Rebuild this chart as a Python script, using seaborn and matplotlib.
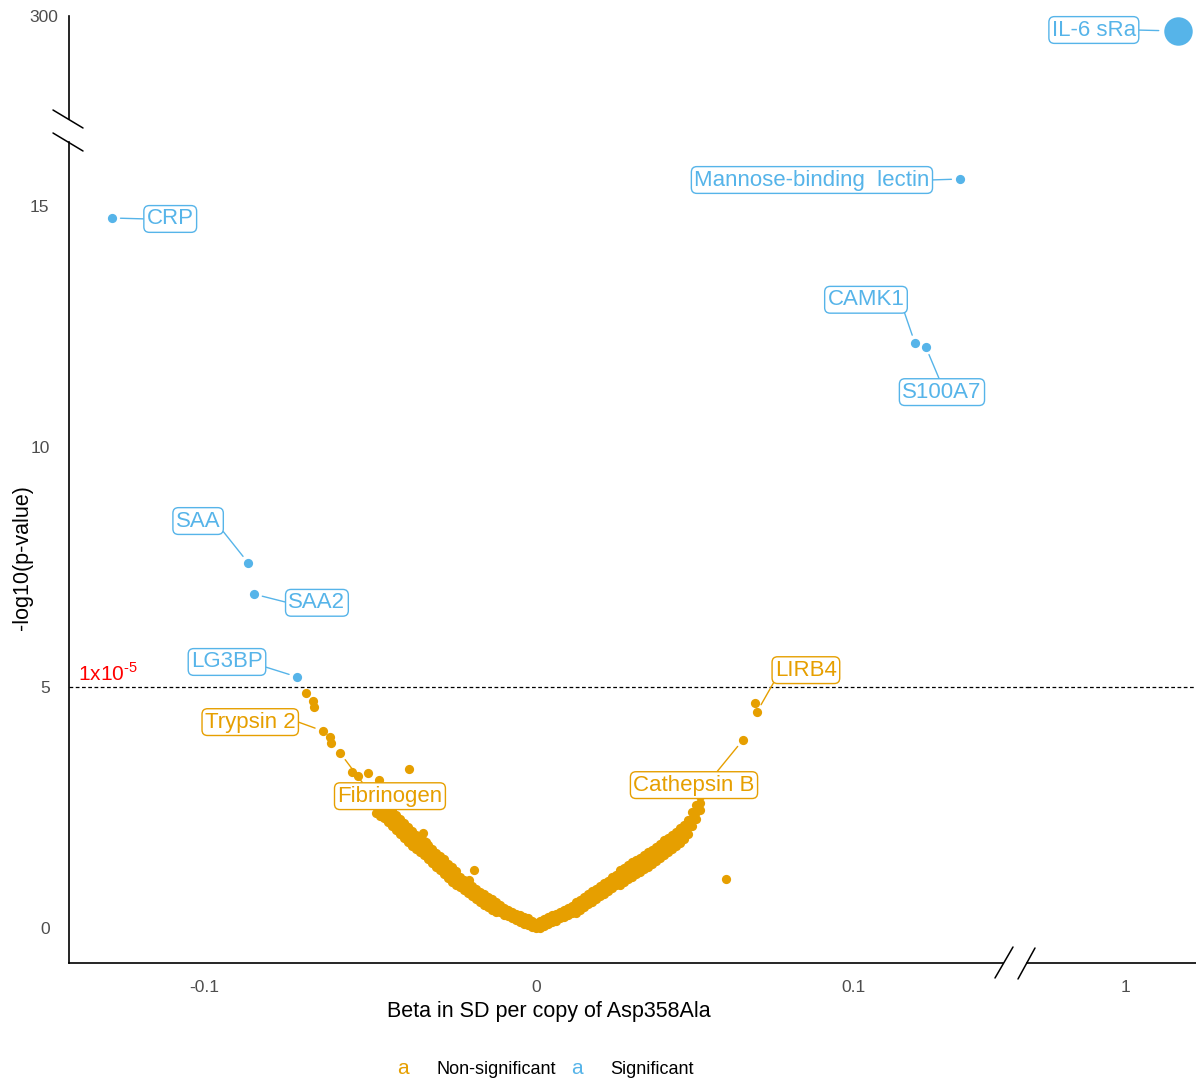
import numpy as np
import pandas as pd
import matplotlib
matplotlib.use("Agg")
import matplotlib.pyplot as plt
from matplotlib.lines import Line2D
import seaborn as sns

# ---------------- data ----------------
# dense band of non-significant proteins: beta with upper / middle / lower -log10 p
band_beta = [
    -0.0482, -0.0470, -0.0458, -0.0446, -0.0434, -0.0422, -0.0410, -0.0398,
    -0.0386, -0.0373, -0.0361, -0.0349, -0.0337, -0.0325, -0.0313, -0.0301,
    -0.0289, -0.0277, -0.0265, -0.0253, -0.0241, -0.0229, -0.0217, -0.0205,
    -0.0193, -0.0181, -0.0169, -0.0157, -0.0145, -0.0133, -0.0120, -0.0108,
    -0.0096, -0.0084, -0.0072, -0.0060, -0.0048, -0.0036, -0.0024, -0.0012,
    0.0000,
    0.0013, 0.0025, 0.0038, 0.0050, 0.0063, 0.0075, 0.0088, 0.0101,
    0.0113, 0.0126, 0.0138, 0.0151, 0.0164, 0.0176, 0.0189, 0.0201,
    0.0214, 0.0226, 0.0239, 0.0252, 0.0264, 0.0277, 0.0289, 0.0302,
    0.0314, 0.0327, 0.0340, 0.0352, 0.0365, 0.0377, 0.0390, 0.0403,
    0.0415, 0.0428, 0.0440, 0.0453, 0.0465, 0.0478, 0.0491, 0.0503,
    0.0516,
]
band_hi = [
    2.69, 2.63, 2.58, 2.51, 2.43, 2.34, 2.26, 2.18,
    2.09, 2.01, 1.94, 1.88, 1.81, 1.73, 1.65, 1.56,
    1.50, 1.43, 1.34, 1.26, 1.19, 1.07, 1.00, 0.94,
    0.88, 0.82, 0.75, 0.70, 0.65, 0.60, 0.55, 0.47,
    0.42, 0.38, 0.34, 0.30, 0.27, 0.23, 0.20, 0.15,
    0.11,
    0.14, 0.18, 0.23, 0.26, 0.29, 0.34, 0.37, 0.42,
    0.46, 0.54, 0.59, 0.65, 0.71, 0.77, 0.82, 0.88,
    0.93, 0.98, 1.05, 1.11, 1.20, 1.25, 1.31, 1.37,
    1.42, 1.46, 1.52, 1.57, 1.63, 1.69, 1.75, 1.82,
    1.88, 1.94, 2.00, 2.07, 2.15, 2.25, 2.42, 2.56,
    2.75,
]
band_mid = [
    2.54, 2.48, 2.43, 2.36, 2.28, 2.19, 2.11, 2.03,
    1.94, 1.86, 1.79, 1.73, 1.66, 1.58, 1.50, 1.41,
    1.35, 1.28, 1.19, 1.11, 1.04, 0.96, 0.89, 0.83,
    0.77, 0.71, 0.64, 0.59, 0.54, 0.49, 0.44, 0.40,
    0.35, 0.31, 0.27, 0.23, 0.20, 0.16, 0.13, 0.08,
    0.04,
    0.07, 0.11, 0.16, 0.19, 0.22, 0.27, 0.30, 0.35,
    0.39, 0.43, 0.48, 0.54, 0.60, 0.66, 0.71, 0.77,
    0.82, 0.87, 0.94, 1.00, 1.05, 1.10, 1.16, 1.22,
    1.27, 1.31, 1.37, 1.42, 1.48, 1.54, 1.60, 1.67,
    1.73, 1.79, 1.85, 1.92, 2.00, 2.10, 2.27, 2.41,
    2.60,
]
band_lo = [
    2.39, 2.33, 2.28, 2.21, 2.13, 2.04, 1.96, 1.88,
    1.79, 1.71, 1.64, 1.58, 1.51, 1.43, 1.35, 1.26,
    1.20, 1.13, 1.04, 0.96, 0.89, 0.85, 0.78, 0.72,
    0.66, 0.60, 0.53, 0.48, 0.43, 0.38, 0.33, 0.33,
    0.28, 0.24, 0.20, 0.16, 0.13, 0.09, 0.06, 0.02,
    0.00,
    0.01, 0.04, 0.09, 0.12, 0.15, 0.20, 0.23, 0.28,
    0.32, 0.32, 0.37, 0.43, 0.49, 0.55, 0.60, 0.66,
    0.71, 0.76, 0.83, 0.89, 0.90, 0.95, 1.01, 1.07,
    1.12, 1.16, 1.22, 1.27, 1.33, 1.39, 1.45, 1.52,
    1.58, 1.64, 1.70, 1.77, 1.85, 1.95, 2.12, 2.26,
    2.45,
]

# scattered non-significant proteins away from the band
out_beta = [-0.0693, -0.0672, -0.0669, -0.0642, -0.0620, -0.0617, -0.0590, -0.0554,
            -0.0536, -0.0506, -0.0473, -0.0383, -0.0494, -0.0340, -0.0331, -0.0187,
            -0.0202, 0.0689, 0.0695, 0.0651, 0.0597]
out_logp = [4.886, 4.719, 4.595, 4.096, 3.971, 3.846, 3.638, 3.243,
            3.160, 3.222, 3.077, 3.306, 2.869, 1.975, 1.788, 1.206,
            0.998, 4.678, 4.491, 3.909, 1.019]

# significant proteins
sig_names = ["CRP", "SAA", "SAA2", "LG3BP", "Mannose-binding  lectin",
             "CAMK1", "S100A7", "IL-6 sRa"]
sig_beta = [-0.1277, -0.0867, -0.0849, -0.0720, 0.1333, 0.1192, 0.1226, 1.0164]
sig_logp = [14.76, 7.59, 6.94, 5.22, 15.57, 12.16, 12.08, 299.27]

# labelled non-significant proteins
ns_label_names = ["Trypsin 2", "Fibrinogen", "LIRB4", "Cathepsin B"]
ns_label_beta = [-0.0642, -0.0590, 0.0695, 0.0651]
ns_label_logp = [4.096, 3.638, 4.491, 3.909]

# label box positions (data coords)
sig_text_x = [-0.1102, -0.1018, -0.0660, -0.0931, 0.0868, 0.1038, 0.1277, 0.9899]
sig_text_y = [14.74, 8.46, 6.76, 5.53, 15.55, 13.06, 11.14, 299.32]
ns_text_x = [-0.0861, -0.0440, 0.0849, 0.0497]
ns_text_y = [4.28, 2.74, 5.36, 2.97]

threshold = 5
x_ticks = [-0.1, 0, 0.1]
x_tick_labels = ["-0.1", "0", "0.1"]
x_ticks_right = [1]
y_ticks = [0, 5, 10, 15]
y_ticks_top = [300]

ORANGE = "#E69F00"
BLUE = "#56B4E9"

# ---------------- style ----------------
sns.set_style("white")
plt.rcParams["font.family"] = ["Liberation Sans", "DejaVu Sans"]
plt.rcParams["mathtext.fontset"] = "custom"
plt.rcParams["mathtext.rm"] = "Liberation Sans"

W, H = 1196, 1079
fig = plt.figure(figsize=(W / 100, H / 100), dpi=100)


def rect(x0, y0, x1, y1):
    return [x0 / W, 1 - y1 / H, (x1 - x0) / W, (y1 - y0) / H]


ax_ll = fig.add_axes(rect(69, 142, 1003, 963))
ax_ul = fig.add_axes(rect(69, 16, 1003, 119))
ax_lr = fig.add_axes(rect(1027, 142, 1196, 963))
ax_ur = fig.add_axes(rect(1027, 16, 1196, 119))

k = 3320 / 3180


def fwd(x):
    x = np.asarray(x, dtype=float)
    return np.where(x < 0, x * k, x)


def inv(x):
    x = np.asarray(x, dtype=float)
    return np.where(x < 0, x / k, x)


for ax in (ax_ll, ax_ul):
    ax.set_xscale("function", functions=(fwd, inv))
    ax.set_xlim(-0.1407, 0.1469)
for ax in (ax_lr, ax_ur):
    ax.set_xlim(0.9689, 1.0220)
for ax in (ax_ll, ax_lr):
    ax.set_ylim(-0.728, 16.34)
for ax in (ax_ul, ax_ur):
    ax.set_ylim(295, 300)

df_ns = pd.DataFrame({
    "beta": band_beta * 3 + out_beta,
    "logp": band_hi + band_mid + band_lo + out_logp,
})
df_sig = pd.DataFrame({"beta": sig_beta, "logp": sig_logp})

sns.scatterplot(data=df_ns, x="beta", y="logp", color=ORANGE, s=44,
                linewidth=0, ax=ax_ll, legend=False, zorder=3)
sns.scatterplot(data=df_sig.iloc[:7], x="beta", y="logp", color=BLUE, s=44,
                linewidth=0, ax=ax_ll, legend=False, zorder=3)
sns.scatterplot(data=df_sig.iloc[7:], x="beta", y="logp", color=BLUE, s=420,
                linewidth=0, ax=ax_ur, legend=False, zorder=3, clip_on=False)

ax_ll.axhline(threshold, xmin=0, xmax=1.027, clip_on=False, color="black",
              lw=0.9, ls=(0, (3, 2)), zorder=1)
ax_lr.axhline(threshold, color="black", lw=0.9, ls=(0, (3, 2)), zorder=1)

ax_ll.text(-0.1380, threshold + 0.05, r"1x10$^{\text{-5}}$", color="red",
           fontsize=15, ha="left", va="bottom")

# labels
FS = 16
sig_relpos = [(0, 0.5), (1, 0.17), (0, 0.5), (1, 0.3), (1, 0.5),
              (0.99, 0), (0.48, 1), (1, 0.5)]
ns_relpos = [(1, 0.55), (0.26, 1), (0.01, 0.07), (0.67, 1)]


def label(ax, name, xy, xytext, color, relpos, shrinkB=6):
    ax.annotate(name, xy=xy, xytext=xytext, ha="center", va="center",
                fontsize=FS, color=color, annotation_clip=False, zorder=5,
                bbox=dict(boxstyle="round,pad=0.13,rounding_size=0.25",
                          fc="white", ec=color, lw=1),
                arrowprops=dict(arrowstyle="-", color=color, lw=1,
                                shrinkA=0, shrinkB=shrinkB, relpos=relpos))


for i, name in enumerate(sig_names):
    ax = ax_ur if i == 7 else ax_ll
    label(ax, name, (sig_beta[i], sig_logp[i]), (sig_text_x[i], sig_text_y[i]),
          BLUE, sig_relpos[i], shrinkB=14 if i == 7 else 6)
for i, name in enumerate(ns_label_names):
    label(ax_ll, name, (ns_label_beta[i], ns_label_logp[i]),
          (ns_text_x[i], ns_text_y[i]), ORANGE, ns_relpos[i])

# axes styling
for ax in (ax_ll, ax_ul, ax_lr, ax_ur):
    for s in ax.spines.values():
        s.set_visible(False)
        s.set_linewidth(1.2)
        s.set_color("black")
    ax.tick_params(axis="both", length=4, width=1, color="#333333",
                   labelcolor="#4D4D4D", labelsize=12.5, pad=4)
    ax.set_xlabel("")
    ax.set_ylabel("")
    ax.patch.set_alpha(0)

ax_ll.spines["left"].set_visible(True)
ax_ll.spines["bottom"].set_visible(True)
ax_ul.spines["left"].set_visible(True)
ax_lr.spines["bottom"].set_visible(True)

ax_ll.set_xticks(x_ticks)
ax_ll.set_xticklabels(x_tick_labels)
ax_ll.set_yticks(y_ticks)
ax_ul.set_xticks([])
ax_ul.set_yticks(y_ticks_top)
ax_lr.set_xticks(x_ticks_right)
ax_lr.set_xticklabels(["1"])
ax_lr.set_yticks([])
ax_ur.set_xticks([])
ax_ur.set_yticks([])
ax_ll.tick_params(axis="x", pad=8)
ax_lr.tick_params(axis="x", pad=8)
ax_ll.tick_params(axis="y", pad=10)
ax_ll.minorticks_off()
ax_ul.minorticks_off()


# break marks (figure pixel coords)
def fline(x0, y0, x1, y1):
    fig.add_artist(Line2D([x0 / W, x1 / W], [1 - y0 / H, 1 - y1 / H],
                          transform=fig.transFigure, color="black", lw=1.1))


fline(53, 110, 83, 128)
fline(53, 133, 83, 151)
fline(995, 978, 1013, 947)
fline(1018, 979, 1035, 948)

# axis titles
fig.text(549 / W, 1 - 1012 / H, "Beta in SD per copy of Asp358Ala",
         ha="center", va="center", fontsize=15.5, color="black")
fig.text(22 / W, 1 - 558 / H, "-log10(p-value)", rotation=90,
         ha="center", va="center", fontsize=15.5, color="black")

# legend
fig.text(403 / W, 1 - 1069 / H, "a", color=ORANGE, fontsize=15, ha="center", va="center")
fig.text(437 / W, 1 - 1069 / H, "Non-significant", color="black", fontsize=13,
         ha="left", va="center")
fig.text(577 / W, 1 - 1069 / H, "a", color=BLUE, fontsize=15, ha="center", va="center")
fig.text(610 / W, 1 - 1069 / H, "Significant", color="black", fontsize=13,
         ha="left", va="center")

fig.savefig("out.png", dpi=100)
